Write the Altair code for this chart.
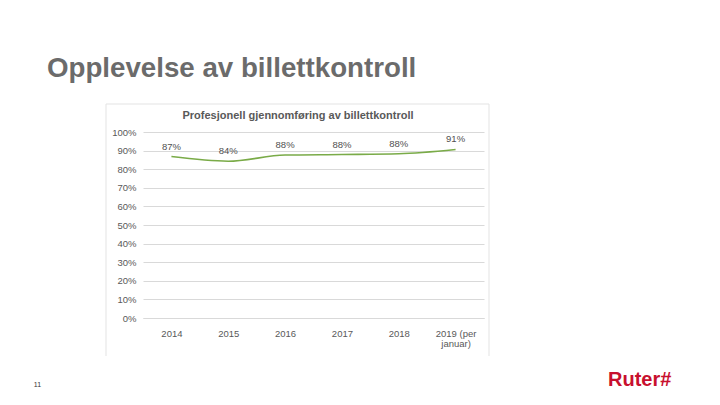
import altair as alt
import pandas as pd

years = ["2014", "2015", "2016", "2017", "2018", "2019 (per januar)"]
shares = [0.868, 0.843, 0.876, 0.879, 0.883, 0.906]
y_ticks = [0, 0.1, 0.2, 0.3, 0.4, 0.5, 0.6, 0.7, 0.8, 0.9, 1.0]

slide_title = "Opplevelse av billettkontroll"
chart_title = "Profesjonell gjennomføring av billettkontroll"
page_number = "11"
logo_text = "Ruter#"

df = pd.DataFrame({"year": years, "share": shares})

FONT = "Liberation Sans"
one = alt.Data(values=[{}])

x_enc = alt.X(
    "year:N",
    sort=years,
    scale=alt.Scale(paddingInner=0, paddingOuter=0.5),
    axis=alt.Axis(
        title=None,
        labelAngle=0,
        labelColor="#595959",
        labelFontSize=9.5,
        labelFont=FONT,
        labelPadding=10,
        labelLineHeight=10,
        ticks=False,
        domainColor="#d9d9d9",
        labelExpr="datum.label == '2019 (per januar)' ? ['2019 (per', 'januar)'] : datum.label",
    ),
)
y_enc = alt.Y(
    "share:Q",
    scale=alt.Scale(domain=[0, 1], nice=False),
    axis=alt.Axis(
        title=None,
        values=y_ticks,
        tickCount=11,
        format=".0%",
        labelColor="#595959",
        labelFontSize=9.5,
        labelFont=FONT,
        labelPadding=7,
        labelOverlap=False,
        ticks=False,
        domain=False,
        grid=True,
        gridColor="#d9d9d9",
    ),
)

base = alt.Chart(df)
line = base.mark_line(color="#7aab48", strokeWidth=1.6, interpolate="monotone").encode(x=x_enc, y=y_enc)
labels = base.mark_text(dy=-10, fontSize=9.5, font=FONT, color="#505050").encode(
    x=alt.X("year:N", sort=years), y="share:Q", text=alt.Text("share:Q", format=".0%")
)

def txt(s, x, y, **kw):
    return alt.Chart(one).mark_text(text=s, **kw).encode(x=alt.value(x), y=alt.value(y))

def rule(x, x2, y, y2):
    return alt.Chart(one).mark_rule(color="#e3e3e3", strokeWidth=1).encode(
        x=alt.value(x), x2=alt.value(x2), y=alt.value(y), y2=alt.value(y2)
    )

border = rule(-37, -37, -28, 224) + rule(-37, 346, -28, -28) + rule(346, 346, -28, 224)

t_slide = txt(slide_title, -96, -55, font=FONT, fontSize=27.7, fontWeight="bold",
              color="#6b6b6b", align="left", baseline="alphabetic")
t_chart = txt(chart_title, 155, -16, font=FONT, fontSize=11, fontWeight="bold",
              color="#595959", align="center", baseline="middle")
t_page = txt(page_number, -105.5, 254.5, font=FONT, fontSize=7, color="#333333",
             align="center", baseline="alphabetic")
t_logo = txt(logo_text, 465, 254, font=FONT, fontSize=20, fontWeight="bold",
             color="#c8102e", align="left", baseline="alphabetic")

chart = alt.layer(border, line, labels, t_slide, t_chart, t_page, t_logo).properties(
    width=341,
    height=186,
    autosize=alt.AutoSizeParams(type="none"),
    padding={"left": 135, "top": 124, "right": 228, "bottom": 75},
    background="white",
).configure_view(stroke=None)

chart.save("out.html", embed_options={"renderer": "svg", "actions": False})
